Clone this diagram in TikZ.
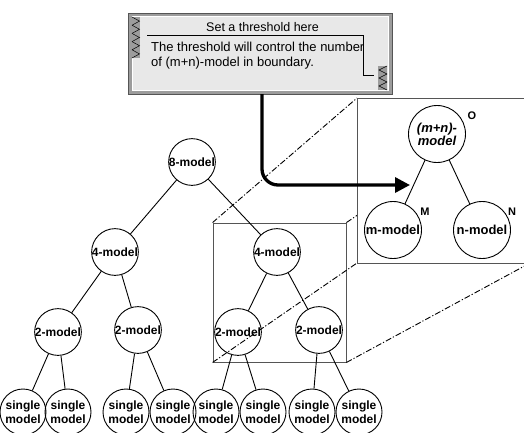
\documentclass[tikz,border=0pt]{standalone}
\usepackage{fontspec}
\setmainfont{Liberation Sans}
\usetikzlibrary{arrows.meta}
\definecolor{framegray}{HTML}{555555}
\definecolor{panelgray}{HTML}{9C9C9C}
\definecolor{panelbg}{HTML}{E8E8E8}

\begin{document}
\begin{tikzpicture}[
    x=1pt, y=-1pt,
    model/.style={draw, circle, line width=0.9pt, minimum size=44pt, inner sep=0pt, align=center, font=\fontsize{12}{14}\selectfont\bfseries},
    leaf/.style={model, minimum size=46pt},
    bigmodel/.style={model, minimum size=57pt, font=\fontsize{13}{13}\selectfont\bfseries},
    tag/.style={font=\fontsize{11}{11}\selectfont\bfseries},
    link/.style={line width=0.9pt},
    zoomline/.style={line width=0.9pt, dash pattern=on 6pt off 2pt on 1.2pt off 2pt},
    boxline/.style={draw=framegray, line width=0.9pt},
    bigarrow/.style={-{Triangle[length=15pt,width=15pt]}, line width=3.3pt, rounded corners=16pt},
]
\useasboundingbox (0,0) rectangle (524,432);
\clip (0,0) rectangle (524,432);

% zoomed part of the tree and its projection
\node[boxline, minimum width=133pt, minimum height=139pt, inner sep=0pt] (frame) at (279.5,292.5) {};
\coordinate (znw) at (357,98);
\coordinate (zsw) at (357,263);
\coordinate (zne) at (530,98);
\coordinate (zse) at (530,263);
\draw[zoomline] (frame.north west) -- (znw) (frame.north east) -- (zne)
                (frame.south west) -- (zsw) (frame.south east) -- (zse);
\draw[boxline, fill=white] (zne) -- (znw) -- (zsw) -- (zse);

% threshold panel
\node[draw=framegray, fill=panelgray, minimum width=264pt, minimum height=81pt, inner sep=0pt] (panel) at (260,53.5) {};
\draw[white, fill=panelbg] ([shift={(4,3.5)}]panel.north west) rectangle ([shift={(-4,-4)}]panel.south east);
\fill[panelgray] (132,17) rectangle (140,58);
\foreach \k in {0,...,4}
  \draw[line width=0.5pt] (132,17+8.2*\k) -- (139.5,21.1+8.2*\k) -- (132,25.2+8.2*\k);
\fill[panelgray] (378,66) rectangle (387,90);
\foreach \k in {0,1,2}
  \draw[line width=0.5pt] (387,66+8*\k) -- (379,70+8*\k) -- (387,74+8*\k);
\draw[line width=0.6pt] (147,35) -| (363,75) -- (374,75);
\node[font=\fontsize{12.5}{15}\selectfont] (title) at (262.5,27) {Set a threshold here};
\node[anchor=west, align=left, inner sep=0pt, font=\fontsize{13}{15}\selectfont] (note) at (151,55.5) {The threshold will control the number\\of (m+n)-model in boundary.};

% tree
\node[model] (eight) at (192,162) {8-model};
\node[model] (fourL) at (115,252) {4-model};
\node[model] (fourR) at (277,252) {4-model};
\node[model] (twoA) at (58,332) {2-model};
\node[model] (twoB) at (138,330) {2-model};
\node[model] (twoC) at (238,332) {2-model};
\node[model] (twoD) at (319,330) {2-model};
\node[leaf] (s1) at (23,412) {single\\model};
\node[leaf] (s2) at (68,412) {single\\model};
\node[leaf] (s3) at (126,412) {single\\model};
\node[leaf] (s4) at (173,412) {single\\model};
\node[leaf] (s5) at (216,412) {single\\model};
\node[leaf] (s6) at (263,412) {single\\model};
\node[leaf] (s7) at (312,412) {single\\model};
\node[leaf] (s8) at (359,412) {single\\model};

\draw[link] (eight) -- (fourL);
\draw[link] (eight) -- (fourR);
\draw[link] (fourL) -- (twoA);
\draw[link] (fourL) -- (twoB);
\draw[link] (fourR) -- (twoC);
\draw[link] (fourR) -- (twoD);
\draw[link] (twoA) -- (s1);
\draw[link] (twoA) -- (s2);
\draw[link] (twoB) -- (s3);
\draw[link] (twoB) -- (s4);
\draw[link] (twoC) -- (s5);
\draw[link] (twoC) -- (s6);
\draw[link] (twoD) -- (s7);
\draw[link] (twoD) -- (s8);

% boundary model
\node[bigmodel] (mn) at (437,134) {\itshape(m+n)-\\\itshape model};
\node[bigmodel] (mm) at (393,230) {m-model};
\node[bigmodel] (nm) at (482,230) {n-model};
\node[tag] at (472,116) {O};
\node[tag] at (425,212) {M};
\node[tag] at (512,212) {N};
\draw[link] (mn) -- (mm);
\draw[link] (mn) -- (nm);

\coordinate (target) at (410,185);
\draw[bigarrow] ([xshift=2pt]panel.south) |- (target);
\end{tikzpicture}
\end{document}
